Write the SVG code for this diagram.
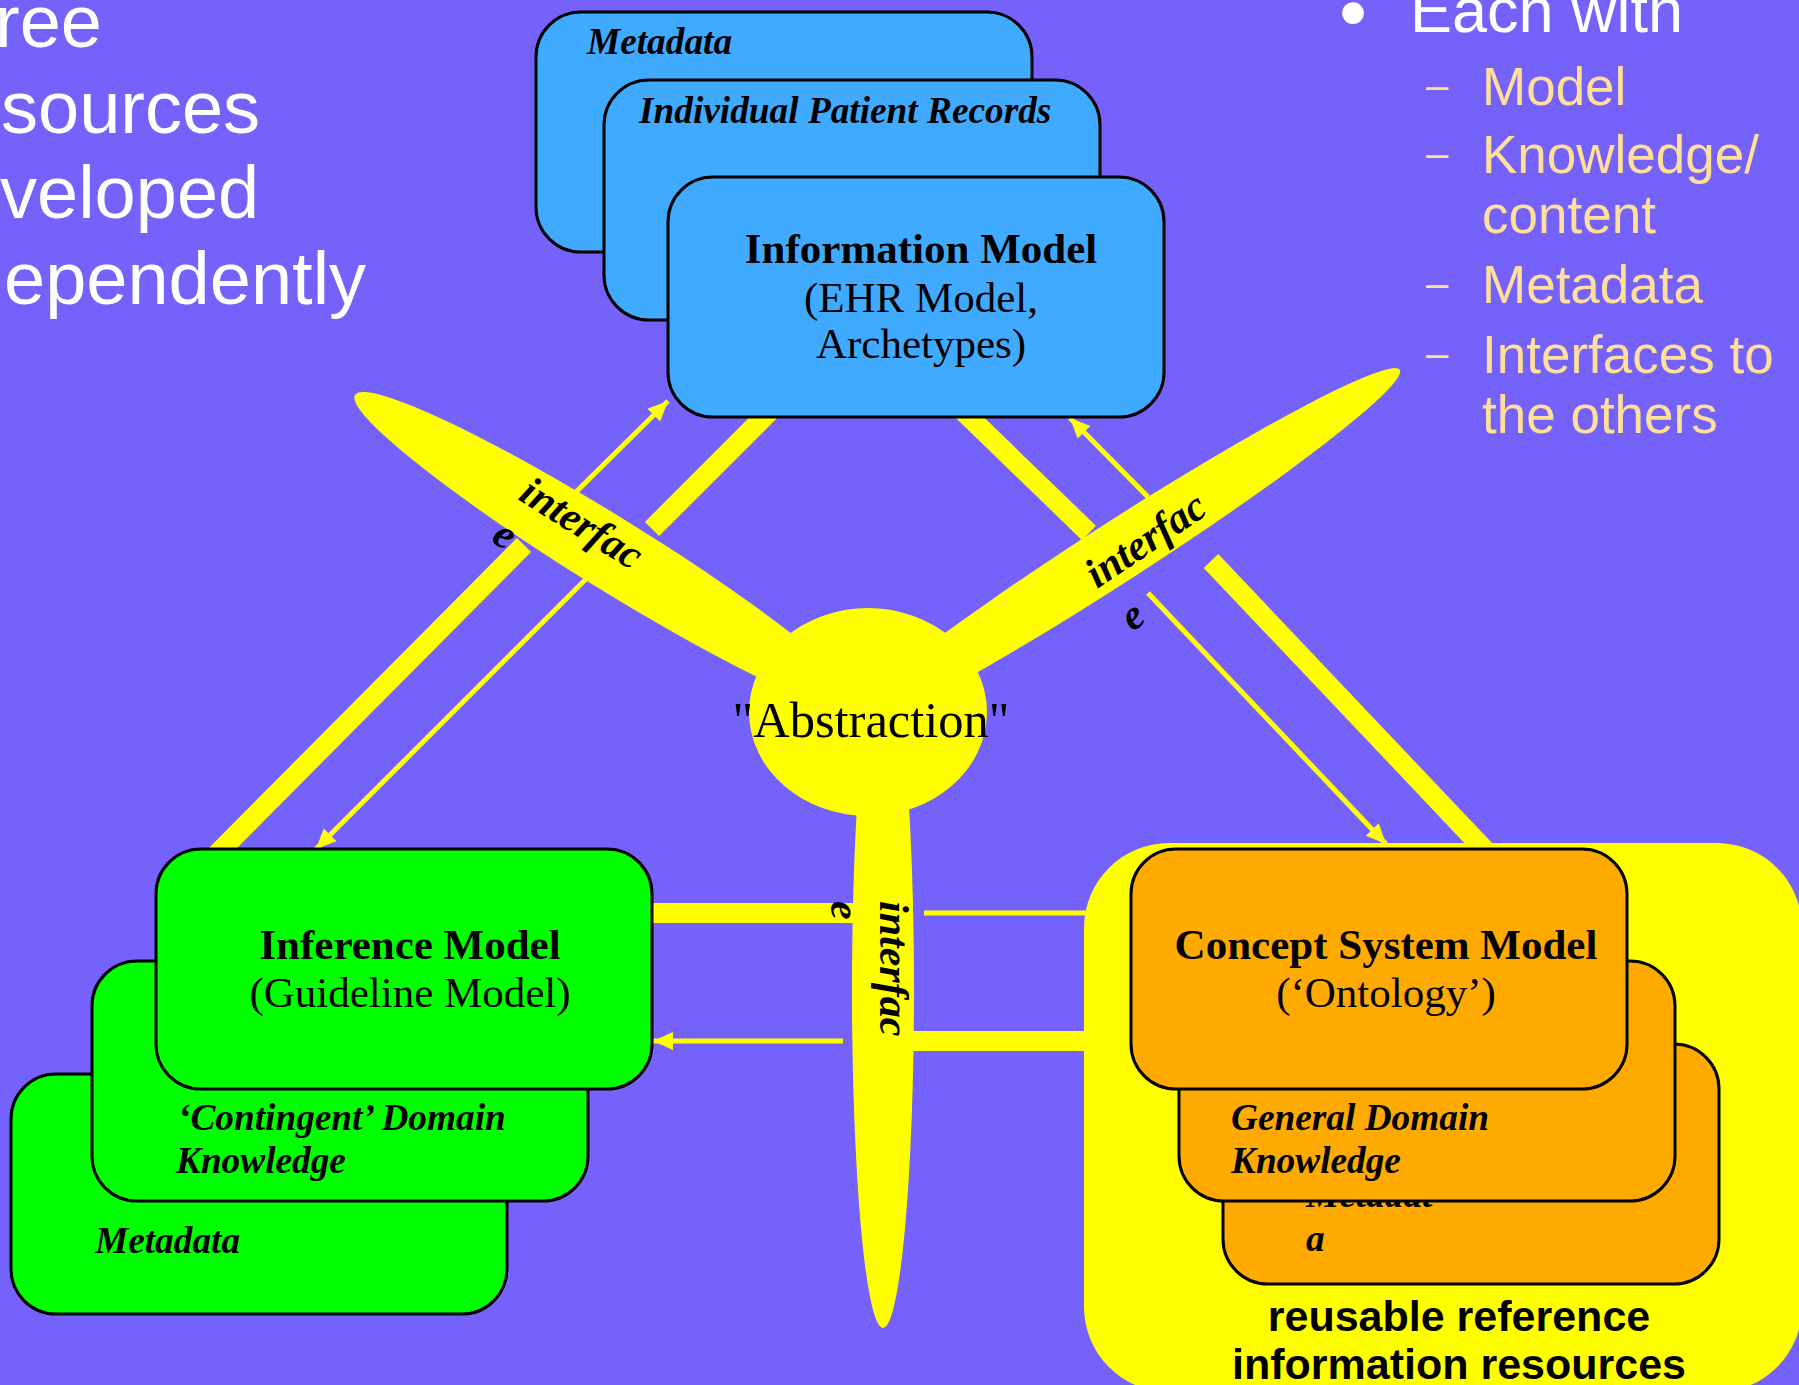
<svg xmlns="http://www.w3.org/2000/svg" width="1799" height="1385" viewBox="0 0 1799 1385">
<defs>
<style>
.sans{font-family:"Liberation Sans",Arial,sans-serif}
.big{font-size:74px;fill:#FFFFFF}
.each{font-size:63px;fill:#FFFFFF}
.sub{font-size:53px;fill:#FFDF99}
.dash{font-size:40px;fill:#FFDF99}
.serif{font-family:"Liberation Serif","Times New Roman",serif;fill:#000000}
.title{font-size:43px;font-weight:bold}
.reg{font-size:43px}
.bi{font-size:37.3px;font-weight:bold;font-style:italic}
.iface{font-size:42px;font-weight:bold;font-style:italic}
.abs{font-size:50.5px}
.box{stroke:#000000;stroke-width:3}
.blue{fill:#40AAFF}
.green{fill:#00FF00}
.orange{fill:#FFAA00}
.yel{fill:#FFFF00}
.thick{stroke:#FFFF00;stroke-width:20;fill:none}
.thin{stroke:#FFFF00;stroke-width:5;fill:none}
.reuse{font-size:43px;font-weight:bold;fill:#000000}
</style>
<marker id="ah" markerUnits="userSpaceOnUse" markerWidth="22" markerHeight="20" refX="20" refY="9" orient="auto">
<path d="M0,0 L20,9 L0,18 z" fill="#FFFF00"/>
</marker>
</defs>
<rect x="0" y="0" width="1799" height="1385" fill="#7462FA"/>

<g id="left-text" class="sans big">
<text x="-5" y="47">ree</text>
<text x="1" y="133">sources</text>
<text x="0" y="218">veloped</text>
<text x="4" y="304">ependently</text>
</g>

<g id="right-text" class="sans">
<text class="each" x="1339" y="40" style="font-size:80px">•</text>
<text class="each" x="1410" y="32">Each with</text>
<text class="dash" x="1426" y="99">–</text>
<text class="sub" x="1482" y="105">Model</text>
<text class="dash" x="1426" y="167">–</text>
<text class="sub" x="1482" y="173">Knowledge/</text>
<text class="sub" x="1482" y="233">content</text>
<text class="dash" x="1426" y="297">–</text>
<text class="sub" x="1482" y="303">Metadata</text>
<text class="dash" x="1426" y="367">–</text>
<text class="sub" x="1482" y="373">Interfaces to</text>
<text class="sub" x="1482" y="433">the others</text>
</g>

<g id="reusable-area">
<rect x="1084" y="843" width="718" height="549" rx="85" ry="85" class="yel"/>
<text class="sans reuse" x="1459" y="1331" text-anchor="middle">reusable reference</text>
<text class="sans reuse" x="1459" y="1379" text-anchor="middle">information resources</text>
</g>

<g id="connectors">
<path class="thick" d="M211,860 L524,545"/>
<path class="thick" d="M652,529 L772,409"/>
<path class="thick" d="M962,410 L1089,533"/>
<path class="thick" d="M1211,561 L1500,866"/>
<path class="thick" d="M640,913 L870,913"/>
<path class="thick" d="M900,1041 L1090,1041"/>
<path class="thin" d="M575,493 L668,401" marker-end="url(#ah)"/>
<path class="thin" d="M588,577 L316,849" marker-end="url(#ah)"/>
<path class="thin" d="M1148,497 L1070,418" marker-end="url(#ah)"/>
<path class="thin" d="M1148,593 L1386,844" marker-end="url(#ah)"/>
<path class="thin" d="M924,913 L1090,913"/>
<path class="thin" d="M843,1041 L653,1041" marker-end="url(#ah)"/>
</g>

<g id="abstraction">
<ellipse class="yel" cx="610" cy="553" rx="300" ry="36" transform="rotate(31.8 610 553)"/>
<ellipse class="yel" cx="1114" cy="554" rx="340" ry="30" transform="rotate(-32.8 1114 554)"/>
<ellipse class="yel" cx="883" cy="990" rx="31" ry="338"/>
<ellipse class="yel" cx="868" cy="712" rx="119" ry="104"/>
<text class="serif abs" x="871" y="737" text-anchor="middle">"Abstraction"</text>
<text class="serif iface" transform="translate(517 499) rotate(32)">interfac</text>
<text class="serif iface" transform="translate(490 541) rotate(32)">e</text>
<text class="serif iface" transform="translate(1097 589) rotate(-34)">interfac</text>
<text class="serif iface" transform="translate(1132 632) rotate(-34)">e</text>
<text class="serif iface" transform="translate(880 901) rotate(90)">interfac</text>
<text class="serif iface" transform="translate(831 901) rotate(90)">e</text>
</g>

<g id="information-metadata">
<rect class="box blue" x="536" y="12" width="496" height="240" rx="45" ry="45"/>
<text class="serif bi" x="587" y="54">Metadata</text>
</g>
<g id="information-records">
<rect class="box blue" x="604" y="80" width="496" height="240" rx="45" ry="45"/>
<text class="serif bi" x="639" y="123">Individual Patient Records</text>
</g>
<g id="information-model">
<rect class="box blue" x="668" y="177" width="496" height="240" rx="45" ry="45"/>
<text class="serif title" x="921" y="263" text-anchor="middle">Information Model</text>
<text class="serif reg" x="921" y="312" text-anchor="middle">(EHR Model,</text>
<text class="serif reg" x="921" y="358" text-anchor="middle">Archetypes)</text>
</g>

<g id="inference-metadata">
<rect class="box green" x="11" y="1074" width="496" height="240" rx="45" ry="45"/>
<text class="serif bi" x="95" y="1253">Metadata</text>
</g>
<g id="inference-knowledge">
<rect class="box green" x="92" y="961" width="496" height="240" rx="45" ry="45"/>
<text class="serif bi" x="178" y="1130">‘Contingent’ Domain</text>
<text class="serif bi" x="176" y="1173">Knowledge</text>
</g>
<g id="inference-model">
<rect class="box green" x="156" y="849" width="496" height="240" rx="45" ry="45"/>
<text class="serif title" x="410" y="959" text-anchor="middle">Inference Model</text>
<text class="serif reg" x="410" y="1007" text-anchor="middle">(Guideline Model)</text>
</g>

<g id="concept-metadata">
<rect class="box orange" x="1223" y="1044" width="496" height="240" rx="45" ry="45"/>
<text class="serif bi" x="1306" y="1207">Metadat</text>
<text class="serif bi" x="1306" y="1251">a</text>
</g>
<g id="concept-knowledge">
<rect class="box orange" x="1179" y="961" width="496" height="240" rx="45" ry="45"/>
<text class="serif bi" x="1231" y="1130">General Domain</text>
<text class="serif bi" x="1231" y="1173">Knowledge</text>
</g>
<g id="concept-model">
<rect class="box orange" x="1131" y="849" width="496" height="240" rx="45" ry="45"/>
<text class="serif title" x="1386" y="959" text-anchor="middle">Concept System Model</text>
<text class="serif reg" x="1386" y="1007" text-anchor="middle">(‘Ontology’)</text>
</g>
</svg>
